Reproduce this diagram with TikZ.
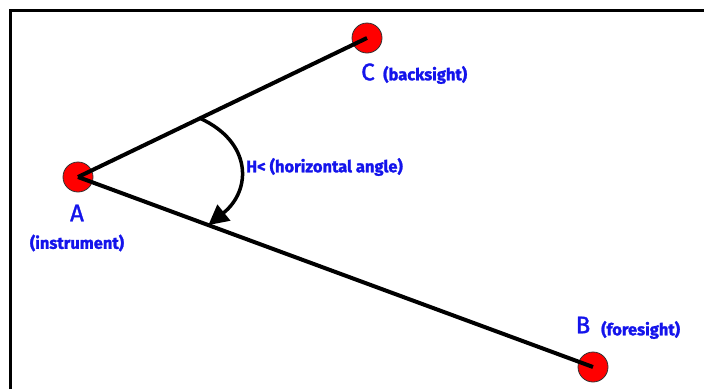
\documentclass[tikz,border=0pt]{standalone}
\usepackage{fontspec}
\setmainfont{Fira Sans}[FakeBold=1.5]
\usetikzlibrary{arrows.meta,calc}
\definecolor{lblblue}{RGB}{20,20,235}
\begin{document}
\begin{tikzpicture}[x=1pt,y=-1pt,
  station/.style={circle,fill=red,draw=black!80,line width=0.8pt,minimum size=30pt,inner sep=0pt},
  leg/.style={line width=4pt},
  big/.style={text=lblblue,font=\fontsize{24}{26}\selectfont,inner sep=0pt},
  small/.style={text=lblblue,font=\fontsize{16.5}{18}\selectfont\bfseries,inner sep=0pt}]
\useasboundingbox (0,0) rectangle (704,389);
\draw[line width=3pt] (10.5,389) -- (10.5,10.5) -- (704,10.5);
\node[station] (A) at (78,177) {};
\node[station] (C) at (367,38) {};
\node[station] (B) at (593,367) {};
\draw[leg] (A.center) -- (C.center);
\draw[leg] (A.center) -- (B.center);
\coordinate (s) at ($(A.center)!0.4222!(C.center)$);
\coordinate (e) at ($(A.center)!0.2531!(B.center)$);
\draw[line width=3.5pt,-{Triangle[length=20pt,width=20pt]}] (s) .. controls (252,142) and (252,190) .. (e);
\node[big] (Cl) at (368,72) {C};
\node[small,anchor=west] (Cs) at (383,75) {(backsight)};
\node[big] (Al) at (77,213) {A};
\node[small] (As) at (77,243) {(instrument)};
\node[big] (Bl) at (583,325) {B};
\node[small,anchor=west] (Bs) at (601,330) {(foresight)};
\node[small,anchor=west] (H) at (246,167) {H< (horizontal angle)};
\end{tikzpicture}
\end{document}
